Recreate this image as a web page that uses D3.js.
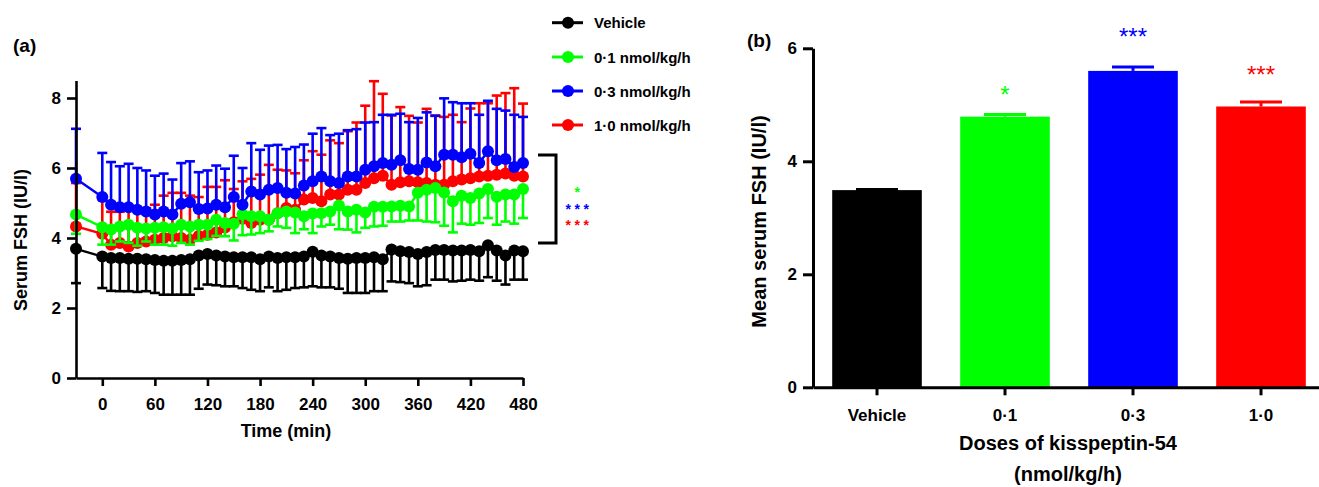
<!DOCTYPE html>
<html><head><meta charset="utf-8">
<script src="https://cdn.jsdelivr.net/npm/d3@7"></script>
<style>
body{margin:0;background:#fff}
svg{display:block}
text{font-family:"Liberation Sans",Arial,sans-serif;font-weight:bold;fill:#000}
</style>
</head><body>
<svg id="c" width="1319" height="487"></svg>
<script>
// ---------- Panel (a) data ----------
const times = [-30,0,10,20,30,40,50,60,70,80,90,100,110,120,130,140,150,160,170,180,190,200,210,220,230,240,250,260,270,280,290,300,310,320,330,340,350,360,370,380,390,400,410,420,430,440,450,460,470,480];
const xTicks = [0,60,120,180,240,300,360,420,480];
const yTicksA = [0,2,4,6,8];

const seriesNames = ["Vehicle","0\u00b71 nmol/kg/h","0\u00b73 nmol/kg/h","1\u00b70 nmol/kg/h"];
const seriesColors = ["#000000","#00ff00","#0000ff","#ff0000"];

const vehicleMean = [3.69,3.47,3.43,3.43,3.41,3.41,3.39,3.37,3.35,3.35,3.37,3.39,3.50,3.54,3.50,3.47,3.45,3.45,3.45,3.39,3.47,3.43,3.45,3.45,3.47,3.61,3.50,3.47,3.43,3.41,3.43,3.43,3.45,3.39,3.67,3.62,3.60,3.54,3.60,3.66,3.66,3.64,3.64,3.66,3.62,3.79,3.64,3.50,3.64,3.62];
const vehicleErrEnd = [2.71,2.57,2.49,2.48,2.48,2.46,2.48,2.43,2.38,2.38,2.38,2.38,2.55,2.67,2.65,2.62,2.62,2.57,2.52,2.48,2.59,2.48,2.52,2.57,2.59,2.62,2.59,2.59,2.55,2.43,2.43,2.43,2.48,2.48,2.76,2.74,2.71,2.62,2.65,2.81,2.81,2.76,2.78,2.81,2.78,2.88,2.78,2.67,2.81,2.81];

const dose01Mean = [4.67,4.31,4.24,4.33,4.38,4.29,4.27,4.29,4.31,4.27,4.38,4.33,4.38,4.38,4.52,4.43,4.41,4.67,4.62,4.62,4.52,4.71,4.76,4.73,4.62,4.70,4.71,4.76,4.93,4.76,4.81,4.73,4.89,4.89,4.90,4.92,4.90,5.29,5.38,5.43,5.30,5.05,5.21,5.14,5.27,5.40,5.18,5.24,5.24,5.40];
const dose01ErrEnd = [4.12,3.81,3.81,3.90,3.86,3.78,3.90,3.81,3.81,3.78,3.86,3.81,3.92,3.97,4.06,4.05,3.93,4.08,4.10,4.14,4.19,4.33,4.29,4.14,4.25,4.14,4.33,4.38,4.25,4.24,4.16,4.29,4.33,4.35,4.47,4.47,4.50,4.50,4.47,4.45,4.35,4.16,4.41,4.38,4.43,4.57,4.38,4.47,4.41,4.57];

const dose03Mean = [5.69,5.17,4.95,4.88,4.88,4.81,4.76,4.67,4.76,4.67,4.98,5.02,4.83,4.84,4.95,4.88,5.17,4.95,5.33,5.24,5.38,5.43,5.29,5.27,5.50,5.62,5.76,5.62,5.57,5.76,5.76,5.95,6.05,6.14,6.09,6.22,5.97,5.95,6.16,6.05,6.38,6.38,6.31,6.41,6.14,6.48,6.22,6.26,6.03,6.14];
const dose03ErrEnd = [7.12,6.43,6.17,6.05,6.12,6.00,5.93,5.78,5.84,5.67,6.14,6.19,5.88,5.93,6.07,5.98,6.35,6.00,6.71,6.52,6.64,6.66,6.54,6.60,6.67,6.98,7.14,6.94,6.98,7.08,7.11,7.30,7.31,7.52,7.52,7.55,7.31,7.43,7.59,7.49,7.99,7.88,7.85,7.85,7.52,7.92,7.69,7.64,7.52,7.46];

const dose10Mean = [4.33,4.12,3.81,3.86,3.76,3.86,3.90,3.95,4.00,4.05,4.00,3.95,4.06,4.09,4.16,4.30,4.45,4.55,4.43,4.52,4.52,4.71,4.86,4.81,5.10,5.14,5.05,5.24,5.24,5.38,5.38,5.57,5.71,5.78,5.52,5.59,5.62,5.59,5.57,5.52,5.52,5.62,5.67,5.71,5.76,5.78,5.81,5.84,5.78,5.76];
const dose10ErrEnd = [5.57,5.10,4.75,4.75,4.80,4.80,4.85,4.95,5.21,5.29,5.29,5.21,5.17,5.46,5.46,5.65,5.40,5.62,5.69,5.81,6.09,5.95,5.93,5.85,6.22,6.48,6.38,6.79,6.71,7.05,7.30,7.78,8.48,8.12,7.50,7.74,7.49,7.30,7.69,7.50,7.46,7.52,7.31,7.70,7.85,7.85,8.07,8.14,8.28,7.84];

// ---------- Panel (b) data ----------
const doseCategories = ["Vehicle","0\u00b71","0\u00b73","1\u00b70"];
const meanFSH = [3.49,4.79,5.60,4.97];
const meanFSHErr = [0.01,0.04,0.07,0.08];
const barStars = ["","*","***","***"];
const yTicksB = [0,2,4,6];
const bracketStars = ["*","***","***"];
const bracketStarColors = ["#00ff00","#0000ff","#ff0000"];

const svg = d3.select("#c");

// ================= Panel (a) =================
const xA = d3.scaleLinear().domain([-30,480]).range([76,523]);
const yA = d3.scaleLinear().domain([0,8.5]).range([378,80.5]);

const series = [
  {name:seriesNames[3], color:seriesColors[3], mean:dose10Mean, end:dose10ErrEnd},
  {name:seriesNames[0], color:seriesColors[0], mean:vehicleMean, end:vehicleErrEnd},
  {name:seriesNames[1], color:seriesColors[1], mean:dose01Mean, end:dose01ErrEnd},
  {name:seriesNames[2], color:seriesColors[2], mean:dose03Mean, end:dose03ErrEnd}
];

const gA = svg.append("g");
const line = d3.line().x(d=>xA(d.t)).y(d=>yA(d.v));
series.forEach(s=>{
  const pts = times.map((t,i)=>({t, v:s.mean[i], e:s.end[i]}));
  const g = gA.append("g");
  g.selectAll("line.eb").data(pts).join("line")
    .attr("x1",d=>xA(d.t)).attr("x2",d=>xA(d.t))
    .attr("y1",d=>yA(d.v)).attr("y2",d=>yA(d.e))
    .attr("stroke",s.color).attr("stroke-width",2.6);
  g.selectAll("line.cap").data(pts).join("line")
    .attr("x1",d=>xA(d.t)-5).attr("x2",d=>xA(d.t)+5)
    .attr("y1",d=>yA(d.e)).attr("y2",d=>yA(d.e))
    .attr("stroke",s.color).attr("stroke-width",2.6);
  g.append("path").datum(pts).attr("d",line)
    .attr("fill","none").attr("stroke",s.color).attr("stroke-width",2.4);
  g.selectAll("circle").data(pts).join("circle")
    .attr("cx",d=>xA(d.t)).attr("cy",d=>yA(d.v)).attr("r",6)
    .attr("fill",s.color);
});

const axA_y = gA.append("g").attr("transform","translate(76,0)")
  .call(d3.axisLeft(yA).tickValues(yTicksA).tickSize(9).tickSizeOuter(0).tickPadding(6).tickFormat(d3.format("d")));
const axA_x = gA.append("g").attr("transform","translate(0,378)")
  .call(d3.axisBottom(xA).tickValues(xTicks).tickSize(8).tickSizeOuter(0).tickPadding(12).tickFormat(d3.format("d")));
[axA_y, axA_x].forEach(a=>{
  a.select(".domain").attr("stroke","#000").attr("stroke-width",2.6);
  a.selectAll(".tick line").attr("stroke","#000").attr("stroke-width",2.6);
  a.selectAll(".tick text").style("font-size","17px").style("font-weight","bold").attr("fill","#000");
});

gA.append("text").attr("x",13).attr("y",52).style("font-size","19px").text("(a)");
gA.append("text").attr("transform","translate(27,240) rotate(-90)").attr("text-anchor","middle")
  .style("font-size","18px").text("Serum FSH (IU/l)");
gA.append("text").attr("x",286).attr("y",437).attr("text-anchor","middle")
  .style("font-size","18px").text("Time (min)");

// bracket
gA.append("path").attr("d","M538,155 H556 V243 H538").attr("fill","none")
  .attr("stroke","#000").attr("stroke-width",3);
const bracketY = [197,213.5,230];
bracketStars.forEach((s,i)=>{
  gA.append("text").attr("x",579).attr("y",bracketY[i]).attr("text-anchor","middle")
    .style("font-size","14px").style("letter-spacing","3.5px").style("fill",bracketStarColors[i]).text(s);
});

// legend
const legendY = [22.7,57,91,125];
const legendOrder = [0,1,2,3];
legendOrder.forEach((k,i)=>{
  const g = svg.append("g").attr("transform",`translate(0,${legendY[i]})`);
  g.append("line").attr("x1",552).attr("x2",583).attr("y1",0).attr("y2",0)
    .attr("stroke",seriesColors[k]).attr("stroke-width",3);
  g.append("circle").attr("cx",568).attr("cy",0).attr("r",6).attr("fill",seriesColors[k]);
  g.append("text").attr("x",594).attr("y",5.5).style("font-size","15px").text(seriesNames[k]);
});

// ================= Panel (b) =================
const xB = d3.scaleBand().domain(doseCategories).range([813,1325]).paddingInner(0.3).paddingOuter(0.15);
const yB = d3.scaleLinear().domain([0,6]).range([387.3,48.3]);
const gB = svg.append("g");

gB.selectAll("rect").data(doseCategories).join("rect")
  .attr("x",d=>xB(d)).attr("width",xB.bandwidth())
  .attr("y",(d,i)=>yB(meanFSH[i])).attr("height",(d,i)=>yB(0)-yB(meanFSH[i]))
  .attr("fill",(d,i)=>seriesColors[i]);
gB.selectAll("line.eb").data(doseCategories).join("line")
  .attr("x1",d=>xB(d)+xB.bandwidth()/2).attr("x2",d=>xB(d)+xB.bandwidth()/2)
  .attr("y1",(d,i)=>yB(meanFSH[i])).attr("y2",(d,i)=>yB(meanFSH[i]+meanFSHErr[i]))
  .attr("stroke",(d,i)=>seriesColors[i]).attr("stroke-width",3);
gB.selectAll("line.cap").data(doseCategories).join("line")
  .attr("x1",d=>xB(d)+xB.bandwidth()/2-21).attr("x2",d=>xB(d)+xB.bandwidth()/2+21)
  .attr("y1",(d,i)=>yB(meanFSH[i]+meanFSHErr[i])).attr("y2",(d,i)=>yB(meanFSH[i]+meanFSHErr[i]))
  .attr("stroke",(d,i)=>seriesColors[i]).attr("stroke-width",3);

const starBase = [0, 103, 44.7, 82.7];
doseCategories.forEach((c,i)=>{
  if(!barStars[i]) return;
  gB.append("text").attr("x",xB(c)+xB.bandwidth()/2).attr("y",starBase[i])
    .attr("text-anchor","middle").style("font-size","24px").style("font-weight","normal")
    .style("fill",seriesColors[i]).text(barStars[i]);
});

const axB_y = gB.append("g").attr("transform","translate(813,0)")
  .call(d3.axisLeft(yB).tickValues(yTicksB).tickSize(10).tickSizeOuter(0).tickPadding(6).tickFormat(d3.format("d")));
const axB_x = gB.append("g").attr("transform","translate(0,387.3)")
  .call(d3.axisBottom(xB).tickSize(8).tickSizeOuter(0).tickPadding(14));
[axB_y, axB_x].forEach(a=>{
  a.select(".domain").attr("stroke","#000").attr("stroke-width",3);
  a.selectAll(".tick line").attr("stroke","#000").attr("stroke-width",3);
  a.selectAll(".tick text").style("font-size","17px").style("font-weight","bold").attr("fill","#000");
});

gB.append("text").attr("x",747).attr("y",47).style("font-size","19px").text("(b)");
gB.append("text").attr("transform","translate(766,221.5) rotate(-90)").attr("text-anchor","middle")
  .style("font-size","20px").text("Mean serum FSH (IU/l)");
gB.append("text").attr("x",1068).attr("y",450).attr("text-anchor","middle")
  .style("font-size","20px").text("Doses of kisspeptin-54");
gB.append("text").attr("x",1068).attr("y",481).attr("text-anchor","middle")
  .style("font-size","20px").text("(nmol/kg/h)");
</script>
</body></html>
